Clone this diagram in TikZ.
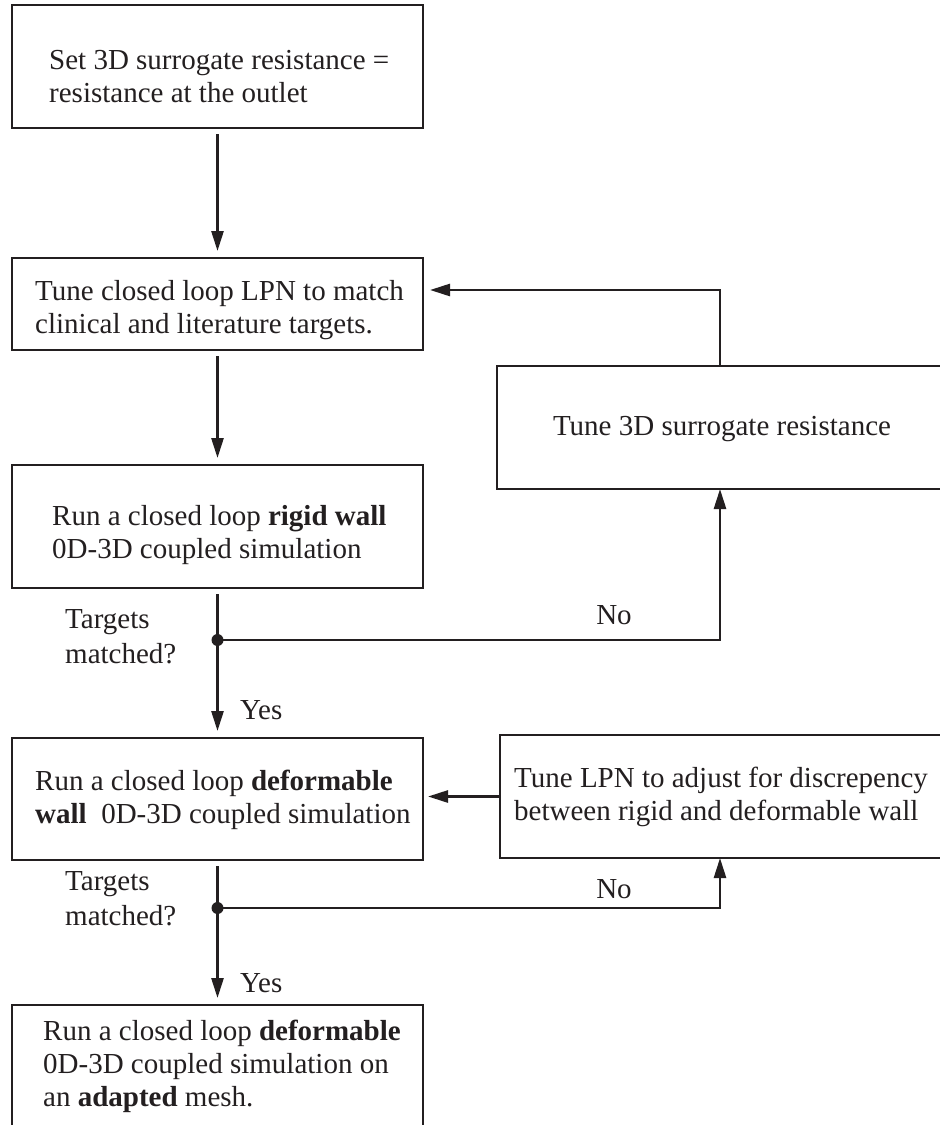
\documentclass[tikz,border=0pt]{standalone}
\usepackage{fontspec}
\setmainfont{Liberation Serif}
\usetikzlibrary{arrows.meta}
\definecolor{ink}{HTML}{231F20}
\begin{document}
\begin{tikzpicture}[x=1pt,y=-1pt,
  box/.style={draw=ink, line width=2.8pt, rectangle, inner sep=0pt, outer sep=0pt, anchor=north west},
  txt/.style={anchor=north west, inner sep=0pt, align=left, text=ink, font=\fontsize{29}{33}\selectfont},
  lbl/.style={anchor=base west, inner sep=0pt, text=ink, font=\fontsize{29}{33}\selectfont},
  conn/.style={draw=ink, line width=2.6pt},
  arr/.style={conn, -{Triangle[length=20pt,width=12pt]}},
  dot/.style={circle, fill=ink, inner sep=0pt, minimum size=12pt}
]
\clip (0,0) rectangle (940,1125);
\fill[white] (0,0) rectangle (940,1125);

% boxes
\node[box, minimum width=411pt, minimum height=123pt] (b1) at (12,5) {};
\node[box, minimum width=411pt, minimum height=92pt]  (b2) at (12,258) {};
\node[box, minimum width=411pt, minimum height=123pt] (b3) at (12,465) {};
\node[box, minimum width=411pt, minimum height=122pt] (b4) at (12,738) {};
\node[box, minimum width=411pt, minimum height=200pt] (b5) at (12,1005) {};
\node[box, minimum width=446pt, minimum height=123pt] (t3) at (497,366) {};
\node[box, minimum width=446pt, minimum height=123pt] (t4) at (500,735) {};

% texts
\node[txt] (x1) at (49,48) {\rule{0pt}{21pt}Set 3D surrogate resistance =\\resistance at the outlet};
\node[txt] (x2) at (35,279) {\rule{0pt}{21pt}Tune closed loop LPN to match\\clinical and literature targets.};
\node[txt] (x3) at (52,504) {\rule{0pt}{21pt}Run a closed loop \textbf{rigid wall}\\0D-3D coupled simulation};
\node[txt] (x4) at (35,769) {\rule{0pt}{21pt}Run a closed loop \textbf{deformable}\\\textbf{wall}\ \ 0D-3D coupled simulation};
\node[txt] (x5) at (43,1019) {\rule{0pt}{21pt}Run a closed loop \textbf{deformable}\\0D-3D coupled simulation on\\an \textbf{adapted} mesh.};
\node[lbl, anchor=base] (xt3) at (722,435) {Tune 3D surrogate resistance};
\node[txt] (xt4) at (514,766) {\rule{0pt}{21pt}Tune LPN to adjust for discrepency\\between rigid and deformable wall};

% junctions
\path (b3.south) ++(0,52) coordinate (j1);
\path (b4.south) ++(0,48) coordinate (j2);

% labels
\node[txt] (q1) at (65,607) {\rule{0pt}{21pt}Targets\\[2pt]matched?};
\node[txt] (q2) at (65,869) {\rule{0pt}{21pt}Targets\\[2pt]matched?};
\node[lbl, anchor=base] (n1) at (614,624) {No};
\node[lbl, anchor=base] (n2) at (614,898) {No};
\node[lbl] (y1) at (240,719) {Yes};
\node[lbl] (y2) at (240,992) {Yes};

% connectors
\draw[arr, shorten <=6pt, shorten >=7pt] (b1.south) -- (b2.north);
\draw[arr, shorten <=6pt, shorten >=7pt] (b2.south) -- (b3.north);
\draw[conn, shorten <=6pt] (b3.south) -- (j1);
\draw[arr, shorten >=7pt] (j1) -- (b4.north);
\draw[arr] (j1) -| (t3.south);
\draw[arr, shorten >=7pt] (t3.north) |- ([yshift=14pt]b2.east);
\draw[conn, shorten <=6pt] (b4.south) -- (j2);
\draw[arr, shorten >=7pt] (j2) -- (b5.north);
\draw[arr] (j2) -| (t4.south -| t3.south);
\draw[arr, shorten >=5pt] (t4.west) -- (t4.west -| b4.east);

\node[dot] (d1) at (j1) {};
\node[dot] (d2) at (j2) {};
\end{tikzpicture}
\end{document}
